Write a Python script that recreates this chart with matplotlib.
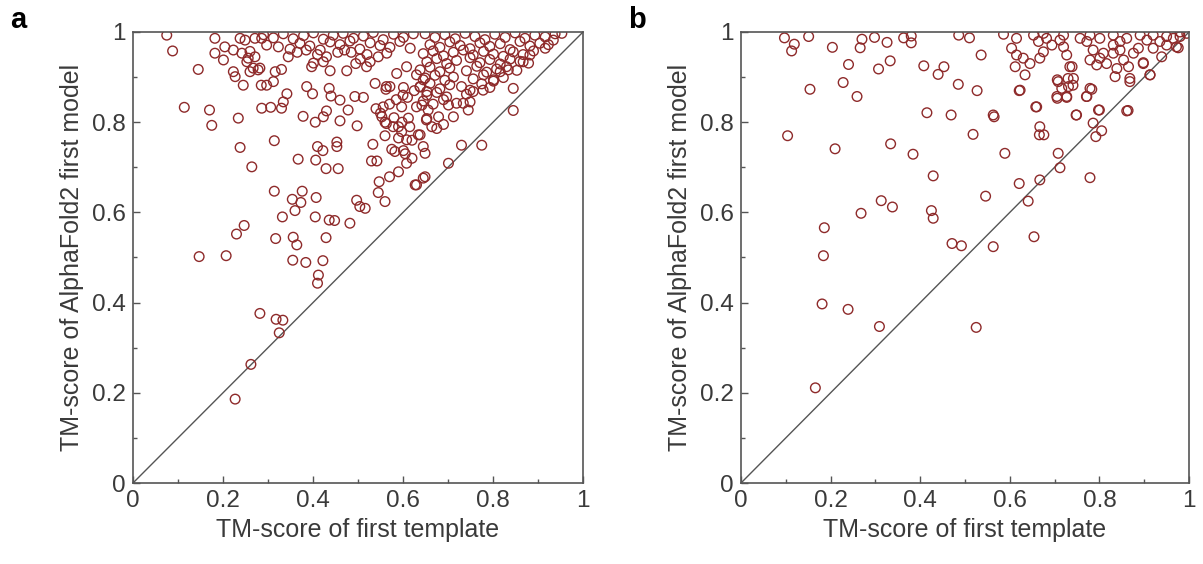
import matplotlib
matplotlib.use("Agg")
import matplotlib.pyplot as plt
from matplotlib.ticker import MultipleLocator, FuncFormatter

plt.rcParams['font.family'] = ['Liberation Sans', 'DejaVu Sans']

# ---------------- Panel a data ----------------
a_x = [
    0.075, 0.088, 0.145, 0.114, 0.170, 0.175, 0.234, 0.238, 0.264, 0.314, 0.314, 0.230, 0.247,
    0.317, 0.332, 0.356, 0.364, 0.354, 0.373, 0.376, 0.360, 0.407, 0.405, 0.429, 0.436, 0.448,
    0.482, 0.367, 0.406, 0.410, 0.422, 0.429, 0.456, 0.453, 0.453, 0.378, 0.405, 0.423, 0.430,
    0.460, 0.478, 0.498, 0.533, 0.530, 0.542, 0.547, 0.545, 0.560, 0.570, 0.497, 0.504, 0.516,
    0.582, 0.601, 0.608, 0.627, 0.645, 0.649, 0.645, 0.286, 0.306, 0.330, 0.334, 0.342, 0.386,
    0.399, 0.436, 0.440, 0.460, 0.493, 0.512, 0.538, 0.562, 0.571, 0.540, 0.560, 0.580, 0.560,
    0.590, 0.550, 0.570, 0.597, 0.612, 0.630, 0.642, 0.638, 0.601, 0.586, 0.475, 0.438, 0.423,
    0.401, 0.397, 0.297, 0.312, 0.316, 0.330, 0.245, 0.227, 0.223, 0.260, 0.278, 0.182, 0.201,
    0.182, 0.204, 0.223,
    # lower sparse
    0.147, 0.207, 0.355, 0.384, 0.422, 0.412, 0.410, 0.282, 0.318, 0.333, 0.325, 0.262, 0.227,
    # near diagonal right
    0.845, 0.845, 0.730, 0.775, 0.701, 0.630, 0.649, 0.634, 0.608, 0.597, 0.664, 0.675, 0.652,
    0.712, 0.745, 0.749, 0.719, 0.701, 0.778, 0.801, 0.834, 0.816, 0.867, 0.882, 0.916, 0.934,
    0.953, 0.563, 0.556, 0.563, 0.553, 0.578,
    # top rows middle
    0.290, 0.312, 0.334, 0.356, 0.379, 0.401, 0.423, 0.445, 0.467, 0.490, 0.512, 0.534, 0.556,
    0.579, 0.601, 0.623,
    0.297, 0.323, 0.349, 0.371, 0.393, 0.416, 0.438, 0.460, 0.482, 0.504, 0.527, 0.549, 0.571,
    0.593, 0.616,
    0.527, 0.519, 0.545, 0.564, 0.608, 0.630, 0.645, 0.638, 0.653, 0.653,
    # top rows right
    0.649, 0.671, 0.693, 0.716, 0.738, 0.760, 0.782, 0.804, 0.827, 0.849, 0.871, 0.893, 0.916,
    0.938,
    0.660, 0.682, 0.704, 0.727, 0.749, 0.771, 0.793, 0.816, 0.838, 0.860, 0.882, 0.904, 0.923,
    0.645, 0.667, 0.690, 0.712, 0.734, 0.756, 0.779, 0.801, 0.823, 0.845, 0.867, 0.890,
    0.653, 0.675, 0.697, 0.719, 0.749, 0.771, 0.793, 0.816, 0.838, 0.860, 0.879,
    0.638, 0.660, 0.682, 0.704, 0.741, 0.764, 0.786, 0.808, 0.830, 0.853,
    0.649, 0.671, 0.693, 0.712, 0.756, 0.779, 0.801, 0.823,
    0.638, 0.660, 0.682, 0.704, 0.730, 0.749, 0.775, 0.793,
    0.653, 0.675, 0.697, 0.741, 0.756,
    0.645, 0.667, 0.690, 0.734,
    0.656, 0.679, 0.690,
    # top-left cluster
    0.238, 0.249, 0.271, 0.286, 0.242, 0.260, 0.271, 0.253, 0.267, 0.282, 0.256, 0.285,
    0.610, 0.625, 0.598, 0.585, 0.620, 0.575, 0.590, 0.600, 0.615, 0.620, 0.590, 0.605,
    0.485, 0.505, 0.470, 0.520, 0.495, 0.345, 0.365, 0.385, 0.410, 0.430, 0.455,
]
a_y = [
    0.993, 0.958, 0.917, 0.833, 0.827, 0.793, 0.809, 0.744, 0.701, 0.759, 0.647, 0.552, 0.571,
    0.542, 0.590, 0.545, 0.528, 0.629, 0.622, 0.647, 0.604, 0.633, 0.590, 0.544, 0.583, 0.582,
    0.576, 0.718, 0.716, 0.746, 0.737, 0.697, 0.697, 0.756, 0.746, 0.813, 0.800, 0.812, 0.825,
    0.803, 0.827, 0.792, 0.751, 0.714, 0.714, 0.668, 0.644, 0.624, 0.679, 0.627, 0.613, 0.609,
    0.735, 0.737, 0.709, 0.661, 0.676, 0.731, 0.746, 0.831, 0.833, 0.831, 0.845, 0.863, 0.879,
    0.863, 0.875, 0.858, 0.849, 0.857, 0.855, 0.886, 0.873, 0.879, 0.830, 0.800, 0.810, 0.770,
    0.790, 0.820, 0.840, 0.834, 0.809, 0.834, 0.838, 0.772, 0.877, 0.908, 0.914, 0.914, 0.934,
    0.931, 0.923, 0.882, 0.890, 0.912, 0.917, 0.882, 0.901, 0.912, 0.912, 0.916, 0.953, 0.938,
    0.986, 0.967, 0.960,
    0.502, 0.504, 0.494, 0.489, 0.493, 0.461, 0.443, 0.376, 0.363, 0.361, 0.333, 0.263, 0.186,
    0.875, 0.826, 0.749, 0.749, 0.709, 0.661, 0.679, 0.772, 0.761, 0.779, 0.790, 0.786, 0.805,
    0.812, 0.827, 0.845, 0.842, 0.838, 0.871, 0.894, 0.916, 0.912, 0.934, 0.949, 0.964, 0.982,
    0.997, 0.879, 0.834, 0.797, 0.812, 0.790,
    0.994, 0.987, 0.996, 0.985, 0.992, 0.998, 0.984, 0.993, 0.997, 0.986, 0.991, 0.999, 0.983,
    0.995, 0.988, 0.996,
    0.971, 0.967, 0.962, 0.975, 0.969, 0.960, 0.978, 0.972, 0.980, 0.962, 0.976, 0.970, 0.966,
    0.979, 0.964,
    0.934, 0.923, 0.945, 0.953, 0.923, 0.905, 0.894, 0.879, 0.868, 0.808,
    0.996, 0.988, 0.994, 0.985, 0.997, 0.990, 0.983, 0.995, 0.988, 0.998, 0.986, 0.993, 0.989,
    0.996,
    0.972, 0.966, 0.978, 0.970, 0.963, 0.976, 0.968, 0.974, 0.961, 0.979, 0.969, 0.975, 0.972,
    0.952, 0.958, 0.947, 0.955, 0.960, 0.949, 0.957, 0.951, 0.946, 0.956, 0.950, 0.958,
    0.934, 0.941, 0.930, 0.937, 0.943, 0.932, 0.939, 0.929, 0.940, 0.935, 0.931,
    0.916, 0.922, 0.912, 0.920, 0.914, 0.924, 0.911, 0.918, 0.923, 0.915,
    0.898, 0.904, 0.893, 0.900, 0.896, 0.905, 0.891, 0.899,
    0.878, 0.886, 0.874, 0.883, 0.879, 0.871, 0.885, 0.877,
    0.860, 0.866, 0.856, 0.862, 0.868,
    0.847, 0.840, 0.850, 0.842,
    0.827, 0.812, 0.795,
    0.986, 0.982, 0.986, 0.986, 0.953, 0.957, 0.945, 0.934, 0.920, 0.920, 0.942, 0.882,
    0.855, 0.870, 0.800, 0.850, 0.760, 0.740, 0.690, 0.860, 0.790, 0.720, 0.765, 0.730,
    0.955, 0.940, 0.960, 0.950, 0.930, 0.945, 0.955, 0.960, 0.950, 0.945, 0.955,
]

# ---------------- Panel b data ----------------
b_x = [
    0.097, 0.119, 0.113, 0.151, 0.204, 0.240, 0.270, 0.266, 0.298, 0.326, 0.307, 0.333, 0.363,
    0.380, 0.380, 0.408, 0.440, 0.453, 0.486, 0.510, 0.485, 0.527, 0.536, 0.154, 0.228, 0.259,
    0.104, 0.210, 0.334, 0.384, 0.415, 0.469, 0.518, 0.429, 0.313, 0.338, 0.268, 0.425, 0.429,
    0.186, 0.471, 0.492, 0.546, 0.184, 0.563, 0.181, 0.239, 0.309, 0.525, 0.166, 0.654,
    0.565, 0.621, 0.658, 0.667, 0.666, 0.676, 0.589, 0.708, 0.712, 0.621, 0.667, 0.641, 0.779,
    0.748, 0.800, 0.786, 0.805, 0.792, 0.864, 0.706, 0.727, 0.706, 0.730, 0.741, 0.771, 0.783,
    0.739, 0.913, 0.898, 0.868, 0.835, 0.972, 0.586,
    0.615, 0.604, 0.615, 0.630, 0.612, 0.634, 0.645, 0.667, 0.675, 0.664, 0.682, 0.694, 0.712,
    0.720, 0.727, 0.734, 0.742, 0.708, 0.731, 0.716, 0.705, 0.727, 0.757, 0.772, 0.786, 0.779,
    0.794, 0.809, 0.816, 0.831, 0.839, 0.854, 0.865, 0.868, 0.876, 0.887, 0.898, 0.913, 0.920,
    0.935, 0.950, 0.965, 0.980, 0.976, 0.779, 0.772, 0.798, 0.861, 0.660, 0.563, 0.749, 0.623,
    0.653, 0.675, 0.720, 0.779, 0.801, 0.831, 0.846, 0.861, 0.891, 0.906, 0.920, 0.950, 0.980,
    0.995, 0.939, 0.846, 0.801, 0.831,
]
b_y = [
    0.987, 0.973, 0.958, 0.990, 0.966, 0.928, 0.984, 0.965, 0.988, 0.977, 0.918, 0.936, 0.987,
    0.991, 0.976, 0.925, 0.906, 0.923, 0.993, 0.987, 0.884, 0.870, 0.949, 0.873, 0.888, 0.857,
    0.770, 0.741, 0.752, 0.729, 0.821, 0.816, 0.773, 0.681, 0.626, 0.612, 0.598, 0.604, 0.587,
    0.566, 0.531, 0.526, 0.636, 0.504, 0.524, 0.397, 0.385, 0.347, 0.345, 0.211, 0.546,
    0.812, 0.870, 0.834, 0.790, 0.772, 0.772, 0.731, 0.731, 0.699, 0.664, 0.672, 0.625, 0.677,
    0.816, 0.827, 0.798, 0.781, 0.768, 0.826, 0.894, 0.855, 0.853, 0.897, 0.882, 0.857, 0.873,
    0.923, 0.905, 0.932, 0.890, 0.901, 0.967, 0.995,
    0.986, 0.964, 0.949, 0.942, 0.923, 0.905, 0.930, 0.942, 0.956, 0.979, 0.986, 0.971, 0.982,
    0.967, 0.949, 0.923, 0.897, 0.890, 0.879, 0.875, 0.857, 0.857, 0.986, 0.979, 0.960, 0.938,
    0.927, 0.953, 0.930, 0.953, 0.919, 0.938, 0.923, 0.897, 0.953, 0.964, 0.930, 0.905, 0.964,
    0.979, 0.971, 0.986, 0.990, 0.965, 0.875, 0.857, 0.827, 0.825, 0.834, 0.816, 0.816, 0.871,
    0.993, 0.997, 0.993, 0.993, 0.986, 0.993, 0.979, 0.986, 0.993, 0.982, 0.993, 0.990, 1.000,
    0.997, 0.945, 0.960, 0.942, 0.971,
]

tick_vals = [0, 0.2, 0.4, 0.6, 0.8, 1]
x_label = "TM-score of first template"
y_label = "TM-score of AlphaFold2 first model"
panel_letters = ["a", "b"]

fig = plt.figure(figsize=(12.03, 5.64), dpi=100)
axes_rects = [[133/1203, 81/564, 450/1203, 451/564],
              [741/1203, 81/564, 448/1203, 451/564]]
datasets = [(a_x, a_y), (b_x, b_y)]

def fmt(v, pos):
    if abs(v) < 1e-9:
        return "0"
    if abs(v - 1) < 1e-9:
        return "1"
    return f"{v:.1f}"

spine_col = "#555555"
text_col = "#3a3a3a"
for rect, (xs, ys), letter in zip(axes_rects, datasets, panel_letters):
    ax = fig.add_axes(rect)
    ax.plot([0, 1], [0, 1], color="#555555", lw=1.0, zorder=1)
    ax.scatter(xs, ys, s=48, facecolors="none", edgecolors="#8e2a2a",
               linewidths=1.0, zorder=2, clip_on=True)
    ax.set_xlim(0, 1)
    ax.set_ylim(0, 1)
    ax.set_xticks(tick_vals)
    ax.set_yticks(tick_vals)
    ax.xaxis.set_minor_locator(MultipleLocator(0.1))
    ax.yaxis.set_minor_locator(MultipleLocator(0.1))
    ax.xaxis.set_major_formatter(FuncFormatter(fmt))
    ax.yaxis.set_major_formatter(FuncFormatter(fmt))
    ax.tick_params(which="both", direction="in", top=False, right=False,
                   colors=spine_col, labelcolor=text_col, labelsize=17.5, width=1)
    ax.tick_params(which="major", length=5, pad=5)
    ax.tick_params(which="minor", length=3)
    for sp in ax.spines.values():
        sp.set_color(spine_col)
        sp.set_linewidth(1.2)
    ax.set_xlabel(x_label, fontsize=18, color=text_col, labelpad=4)
    ax.set_ylabel(y_label, fontsize=18, color=text_col, labelpad=6)

fig.text(10/1203, 1 - 20/564, "a", fontsize=21, fontweight="bold", va="center", ha="left")
fig.text(628/1203, 1 - 20/564, "b", fontsize=21, fontweight="bold", va="center", ha="left")

fig.savefig("out.png", dpi=100)
